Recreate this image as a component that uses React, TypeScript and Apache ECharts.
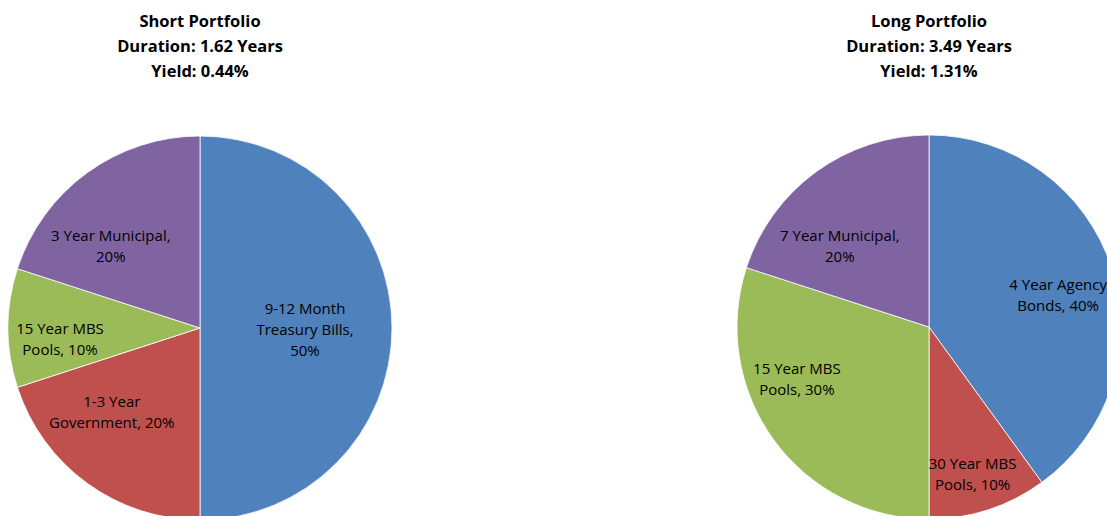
import React, { useEffect, useRef } from "react";
import * as echarts from "echarts";

const shortCategories = ["9-12 Month\nTreasury Bills", "1-3 Year\nGovernment", "15 Year MBS\nPools", "3 Year Municipal,\n"];
const shortValues = [50, 20, 10, 20];
const longCategories = ["4 Year Agency\nBonds", "30 Year MBS\nPools", "15 Year MBS\nPools", "7 Year Municipal,\n"];
const longValues = [40, 10, 30, 20];
const shortTitle = ["Short Portfolio", "Duration: 1.62 Years", "Yield: 0.44%"];
const longTitle = ["Long Portfolio", "Duration: 3.49 Years", "Yield: 1.31%"];
const colors = ["#4F81BD", "#C0504D", "#9BBB59", "#8064A2"];

// label position nudges (layout only)
const shortNudge = [[6, 1], [-30, 3.5], [-41, 10], [-31, -2]];
const longNudge = [[35, -2], [13, 52.5], [-52, -6.5], [-31, -1]];

function labelText(name: string, value: number) {
  if (name.endsWith(",\n")) return name + value + "%";
  if (name.startsWith("9-12")) return name + ",\n" + value + "%";
  return name + ", " + value + "%";
}

export default function App() {
  const ref = useRef<HTMLDivElement>(null);
  useEffect(() => {
    const chart = echarts.init(ref.current!, null, { renderer: "svg" });
    const font = "'Open Sans', sans-serif";
    const makeSeries = (cats: string[], vals: number[], center: number[], nudge: number[][]) => ({
      type: "pie",
      center,
      radius: 192,
      startAngle: 90,
      clockwise: true,
      silent: true,
      data: cats.map((c, i) => ({ name: c, value: vals[i], itemStyle: { color: colors[i] } })),
      itemStyle: { borderColor: "#ffffff", borderWidth: 0.8 },
      label: {
        show: true,
        position: "inside",
        formatter: (p: any) => labelText(p.name, p.value),
        color: "#000000",
        fontFamily: font,
        fontSize: 15,
        lineHeight: 21,
        align: "center",
      },
      labelLine: { show: false },
      labelLayout: (p: any) => ({ dx: nudge[p.dataIndex][0], dy: nudge[p.dataIndex][1] }),
    });
    const titleStyle = { fontFamily: font, fontWeight: "bold", fontSize: 16.5, lineHeight: 25, color: "#000" };
    chart.setOption({
      animation: false,
      backgroundColor: "#ffffff",
      title: [
        { text: shortTitle.join("\n"), left: 200, top: 8, padding: 0, textAlign: "center", textStyle: titleStyle },
        { text: longTitle.join("\n"), left: 929, top: 8, padding: 0, textAlign: "center", textStyle: titleStyle },
      ],
      series: [
        makeSeries(shortCategories, shortValues, [200, 328], shortNudge),
        makeSeries(longCategories, longValues, [929, 327], longNudge),
      ],
    });
    return () => chart.dispose();
  }, []);
  return <div ref={ref} style={{ position: "fixed", left: 0, top: 0, width: 1107, height: 516 }} />;
}
